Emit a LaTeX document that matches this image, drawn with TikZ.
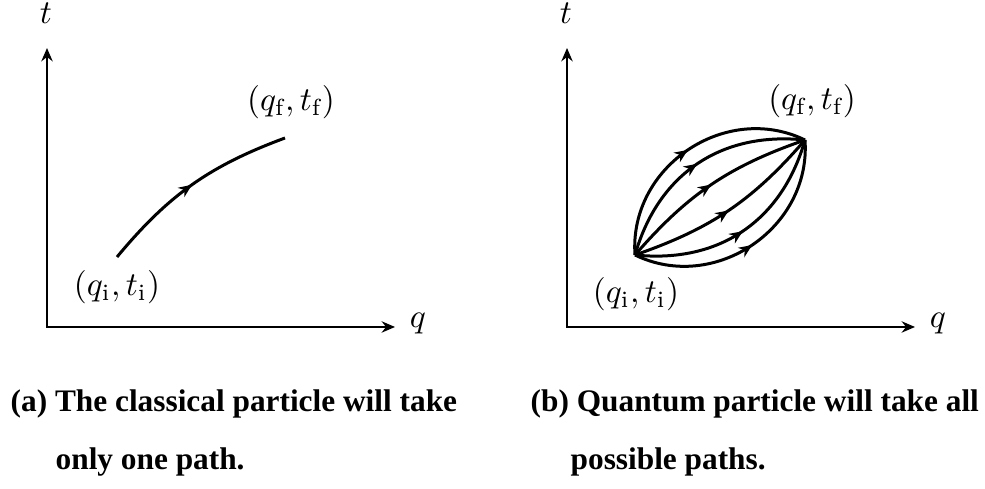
\documentclass[tikz,border=0pt]{standalone}
\usepackage{amsmath}
\usepackage{fontspec}
\newfontfamily\capfont{Liberation Serif}
\usetikzlibrary{arrows.meta,decorations.markings}
\tikzset{
  axis/.style ={{Stealth[length=4pt,width=3.4pt]}-{Stealth[length=4pt,width=3.4pt]},line width=0.6pt},
  traj/.style ={line width=0.9pt,postaction={decorate},
    decoration={markings,mark=at position 0.5 with {\arrow{Stealth[length=4pt,width=3.4pt]}}}},
  captext/.style={font=\capfont\bfseries\fontsize{9.4}{11}\selectfont,anchor=base west,inner sep=0pt},
}

\begin{document}
\begin{tikzpicture}[x=0.3pt,y=-0.3pt]
  \useasboundingbox (0,0) rectangle (985,489);
  % (a) classical
  \coordinate (Oa) at (47,327);
  \coordinate (ta) at (47,48);
  \coordinate (qa) at (395,327);
  \draw[axis] (ta) -- (Oa) -- (qa);
  \node (tla) at (46,13) {$t$};
  \node (qla) at (418,324) {$q$};
  \coordinate (ia) at (117,257);
  \coordinate (fa) at (285,138);
  \draw[traj] (ia) to[bend left=15] (fa);
  \node (lia) at (117,287) {$(q_\mathrm{i},t_\mathrm{i})$};
  \node (lfa) at (291,102) {$(q_\mathrm{f},t_\mathrm{f})$};
  \node[captext] (capa1) at (10,412) {(a) The classical particle will take};
  \node[captext] (capa2) at (55,470) {only one path.};
  % (b) quantum
  \coordinate (Ob) at (567,327);
  \coordinate (tb) at (567,48);
  \coordinate (qb) at (915,327);
  \draw[axis] (tb) -- (Ob) -- (qb);
  \node (tlb) at (566,13) {$t$};
  \node (qlb) at (938,324) {$q$};
  \coordinate (ib) at (635,255);
  \coordinate (fb) at (805,140);
  \foreach \b/\l in {60/1.1,40/1.05,15/1} {
    \draw[traj] (ib) to[bend left=\b,looseness=\l] (fb);
    \draw[traj] (ib) to[bend right=\b,looseness=\l] (fb);
  }
  \node (lib) at (636,294) {$(q_\mathrm{i},t_\mathrm{i})$};
  \node (lfb) at (812,101) {$(q_\mathrm{f},t_\mathrm{f})$};
  \node[captext] (capb1) at (530,412) {(b) Quantum particle will take all};
  \node[captext] (capb2) at (570,470) {possible paths.};
\end{tikzpicture}
\end{document}
